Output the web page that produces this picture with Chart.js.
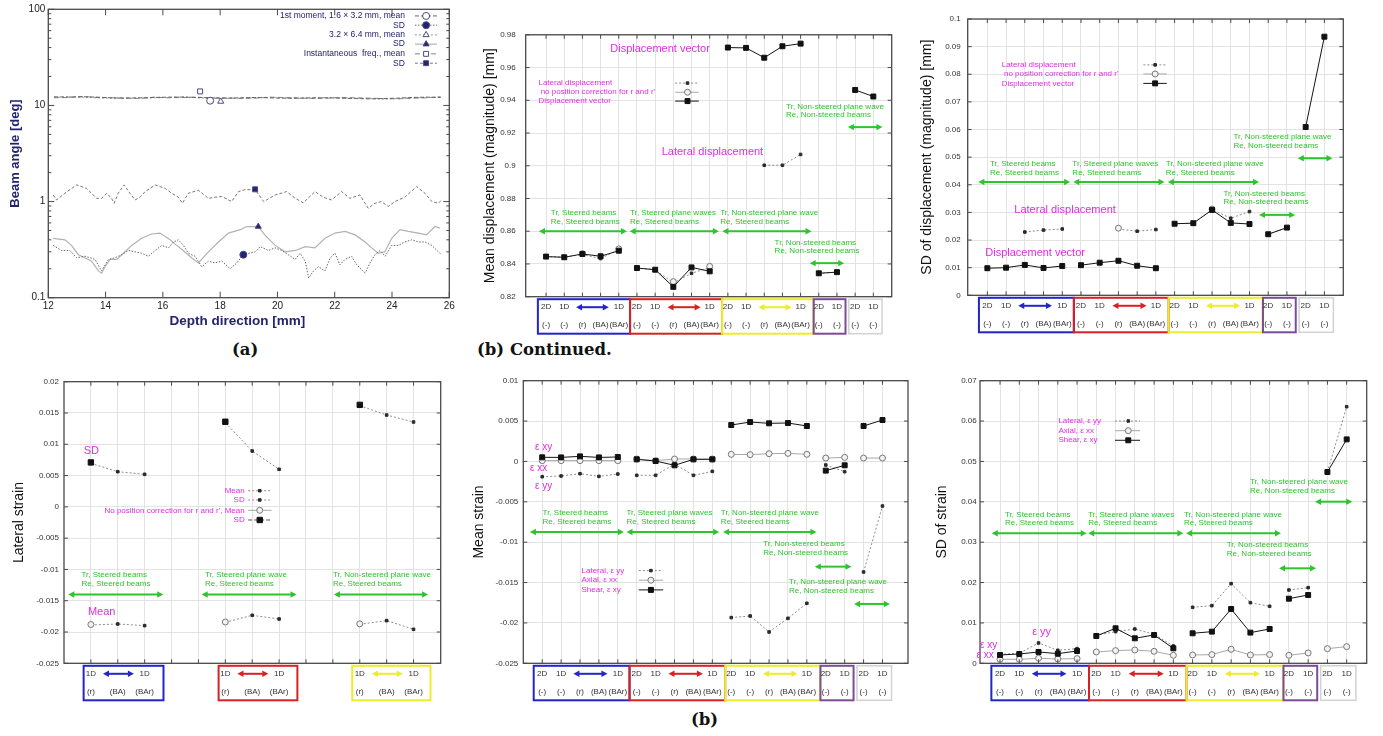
<!DOCTYPE html>
<html>
<head>
<meta charset="utf-8">
<title>Beam angle, displacement and strain</title>
<script src="https://cdn.jsdelivr.net/npm/chart.js@4.4.1/dist/chart.umd.min.js"></script>
<style>
  body { margin: 0; width: 1383px; height: 736px; background: #fff; position: relative; overflow: hidden; }
  canvas { position: absolute; }
  .cap { position: absolute; font: bold 16.5px "DejaVu Serif", "Liberation Serif", serif; color: #111; white-space: nowrap; line-height: 19px; }
</style>
</head>
<body>
<canvas id="beamAngle"></canvas>
<canvas id="dispMean"></canvas>
<canvas id="dispSd"></canvas>
<canvas id="latStrain"></canvas>
<canvas id="strainMean"></canvas>
<canvas id="strainSd"></canvas>
<div class="cap" style="left:232px;top:340px">(a)</div>
<div class="cap" style="left:477px;top:340px">(b) Continued.</div>
<div class="cap" style="left:691px;top:710px">(b)</div>
<script>
// ---------- (a) beam angle vs depth ----------
const depthTicks = [12, 14, 16, 18, 20, 22, 24, 26];
const beamTicks = [0.1, 1, 10, 100];
const beamMinorTicks = [0.2, 0.3, 0.4, 0.5, 0.6, 0.7, 0.8, 0.9, 2, 3, 4, 5, 6, 7, 8, 9, 20, 30, 40, 50, 60, 70, 80, 90];

const meanDepth = [12.2, 12.7, 13.2, 13.7, 14.2, 14.7, 15.2, 15.7, 16.2, 16.7, 17.2, 17.7, 18.2, 18.7, 19.2, 19.7, 20.2, 20.7, 21.2, 21.7, 22.2, 22.7, 23.2, 23.7, 24.2, 24.7, 25.2, 25.7];
const momentMean = [12.3, 12.2, 12.3, 12.2, 12.0, 11.9, 12.0, 12.1, 12.2, 12.2, 12.1, 12.0, 11.9, 12.0, 12.1, 12.0, 11.9, 11.9, 12.0, 12.0, 11.9, 11.8, 11.7, 11.8, 11.9, 12.1, 12.2, 12.1];
const wideMean = [12.1, 12.3, 12.2, 12.0, 11.9, 11.8, 11.9, 12.0, 12.1, 12.3, 12.0, 11.9, 11.8, 11.9, 12.0, 12.1, 12.0, 11.8, 11.9, 12.1, 12.0, 11.9, 11.8, 11.6, 11.8, 12.0, 12.1, 12.2];
const instMean = [12.0, 12.1, 12.4, 12.1, 12.0, 12.0, 11.8, 12.2, 12.0, 12.1, 12.2, 11.9, 12.0, 11.8, 11.9, 12.2, 12.1, 12.0, 11.8, 11.9, 12.1, 12.0, 11.9, 11.8, 11.7, 11.9, 12.0, 12.3];

const instSdDepth = [12.17, 12.29, 12.58, 12.99, 13.34, 13.69, 13.86, 14.04, 14.21, 14.30, 14.44, 14.65, 14.85, 15.03, 15.20, 15.38, 15.73, 16.08, 16.31, 16.54, 16.68, 16.89, 17.24, 17.59, 17.82, 18.06, 18.40, 18.64, 18.87, 19.22, 19.52, 19.92, 20.32, 20.62, 20.90, 21.31, 21.60, 21.89, 22.24, 22.53, 22.88, 23.17, 23.40, 23.63, 23.87, 24.10, 24.44, 24.86, 25.15, 25.39, 25.62, 25.73];
const instSdAngle = [1.17, 1.04, 1.22, 1.49, 1.37, 1.08, 1.08, 1.22, 1.08, 0.96, 1.22, 1.49, 1.22, 1.04, 1.11, 1.27, 1.49, 1.37, 1.22, 1.11, 0.96, 1.22, 1.31, 1.08, 1.11, 1.13, 1.00, 1.27, 1.33, 1.33, 1.00, 1.17, 1.27, 1.08, 0.97, 1.27, 1.11, 1.04, 1.27, 1.08, 1.17, 0.85, 0.96, 1.00, 0.89, 1.00, 1.11, 1.43, 1.22, 1.00, 0.96, 1.04];

const wideSdDepth = [12.17, 12.58, 12.81, 13.05, 13.28, 13.51, 13.75, 13.86, 13.98, 14.16, 14.39, 14.62, 14.91, 15.26, 15.61, 15.90, 16.25, 16.48, 16.71, 17.00, 17.24, 17.59, 17.94, 18.29, 18.70, 18.93, 19.33, 19.56, 19.92, 20.27, 20.62, 20.97, 21.31, 21.66, 22.01, 22.36, 22.71, 23.06, 23.29, 23.52, 23.75, 23.99, 24.28, 24.57, 24.92, 25.20, 25.50, 25.67];
const wideSdAngle = [0.415, 0.40, 0.35, 0.28, 0.26, 0.24, 0.19, 0.18, 0.21, 0.25, 0.25, 0.29, 0.35, 0.415, 0.46, 0.47, 0.40, 0.35, 0.31, 0.26, 0.23, 0.30, 0.38, 0.47, 0.51, 0.55, 0.55, 0.45, 0.35, 0.30, 0.31, 0.34, 0.33, 0.415, 0.47, 0.49, 0.45, 0.38, 0.33, 0.29, 0.30, 0.415, 0.51, 0.49, 0.47, 0.45, 0.55, 0.53];

const momentSdDepth = [12.17, 12.46, 12.75, 12.99, 13.28, 13.46, 13.63, 13.86, 14.10, 14.33, 14.56, 14.80, 15.03, 15.26, 15.50, 15.73, 15.96, 16.20, 16.37, 16.54, 16.72, 16.89, 17.12, 17.36, 17.59, 17.82, 18.06, 18.35, 18.58, 18.81, 19.22, 19.40, 19.68, 19.92, 20.15, 20.38, 20.62, 20.79, 20.97, 21.09, 21.26, 21.43, 21.66, 21.84, 22.01, 22.18, 22.36, 22.59, 22.77, 23.06, 23.23, 23.41, 23.58, 23.76, 23.99, 24.22, 24.45, 24.69, 24.92, 25.15, 25.39, 25.62, 25.73];
const momentSdAngle = [0.35, 0.31, 0.31, 0.26, 0.27, 0.26, 0.25, 0.19, 0.25, 0.26, 0.28, 0.31, 0.30, 0.29, 0.27, 0.31, 0.35, 0.33, 0.38, 0.40, 0.35, 0.29, 0.27, 0.21, 0.24, 0.23, 0.24, 0.20, 0.23, 0.28, 0.30, 0.34, 0.31, 0.33, 0.31, 0.28, 0.25, 0.29, 0.24, 0.16, 0.19, 0.21, 0.19, 0.26, 0.29, 0.22, 0.25, 0.27, 0.22, 0.18, 0.23, 0.28, 0.31, 0.27, 0.35, 0.35, 0.38, 0.40, 0.38, 0.38, 0.35, 0.30, 0.28];

// curve markers: moment mean, moment SD, 3.2x6.4 mean, 3.2x6.4 SD, inst. mean, inst. SD
const markDepth = [17.65, 18.81, 18.02, 19.33, 17.3, 19.22];
const markAngle = [11.2, 0.28, 11.0, 0.55, 14.0, 1.34];

// ---------- (b) 19 method categories ----------
const methodRow1 = ['2D', '1D', '', '', '1D', '2D', '1D', '', '', '1D', '2D', '1D', '', '', '1D', '2D', '1D', '2D', '1D'];
const methodRow2 = ['(-)', '(-)', '(r)', '(BA)', '(BAr)', '(-)', '(-)', '(r)', '(BA)', '(BAr)', '(-)', '(-)', '(r)', '(BA)', '(BAr)', '(-)', '(-)', '(-)', '(-)'];
const methodGroup = [0, 0, 0, 0, 0, 1, 1, 1, 1, 1, 2, 2, 2, 2, 2, 3, 3, 4, 4];
const methodTicks = [0, 1, 2, 3, 4, 5, 6, 7, 8, 9, 10, 11, 12, 13, 14, 15, 16, 17, 18];

const dispMeanTicks = [0.82, 0.84, 0.86, 0.88, 0.9, 0.92, 0.94, 0.96, 0.98];
const dispMeanVector = [0.8445, 0.8441, 0.8461, 0.8447, 0.8481, 0.8375, 0.8365, 0.8260, 0.8379, 0.8355, 0.9722, 0.9720, 0.9660, 0.9730, 0.9746, 0.8343, 0.8350, 0.9463, 0.9423];
const dispMeanLateral = [0.8445, 0.8441, 0.8458, 0.8433, 0.8488, 0.8375, 0.8365, 0.8284, 0.8343, 0.8379, null, null, 0.9003, 0.9003, 0.9069, 0.8343, 0.8350, null, null];
const dispMeanNoCorr = [null, null, 0.8463, null, 0.8492, null, null, 0.8292, null, 0.8385, null, null, null, null, null, null, null, null, null];

const dispSdTicks = [0, 0.01, 0.02, 0.03, 0.04, 0.05, 0.06, 0.07, 0.08, 0.09, 0.1];
const dispSdVector = [0.0098, 0.0100, 0.0110, 0.0099, 0.0106, 0.0109, 0.0118, 0.0125, 0.0107, 0.0098, 0.0259, 0.0261, 0.0309, 0.0262, 0.0258, 0.0221, 0.0245, 0.0609, 0.0936];
const dispSdLateral = [null, null, 0.0229, 0.0236, 0.0240, null, null, 0.0240, 0.0232, 0.0238, 0.0259, 0.0261, 0.0310, 0.0279, 0.0303, 0.0221, 0.0245, null, null];
const dispSdNoCorr = [null, null, null, null, null, null, null, 0.0243, null, null, null, null, 0.0312, null, null, null, null, null, null];

const latTicksX = [0, 1, 2, 3, 4, 5, 6, 7, 8, 9, 10, 11, 12];
const latRow1 = ['1D', '', '1D', '', '', '1D', '', '1D', '', '', '1D', '', '1D'];
const latRow2 = ['(r)', '(BA)', '(BAr)', '', '', '(r)', '(BA)', '(BAr)', '', '', '(r)', '(BA)', '(BAr)'];
const latStrainTicks = [-0.025, -0.02, -0.015, -0.01, -0.005, 0, 0.005, 0.01, 0.015, 0.02];
const latStrainMean = [-0.01888, -0.01872, -0.01898, null, null, -0.01845, -0.01733, -0.01792, null, null, -0.01877, -0.01818, -0.01957];
const latStrainSd = [0.00695, 0.00562, 0.0052, null, null, 0.01345, 0.00892, 0.0060, null, null, 0.01617, 0.01467, 0.01356];
const latNoCorrMean = [-0.0188, null, null, null, null, -0.0184, null, null, null, null, -0.0187, null, null];
const latNoCorrSd = [0.0071, null, null, null, null, 0.0136, null, null, null, null, 0.0163, null, null];

const strainMeanTicks = [-0.025, -0.02, -0.015, -0.01, -0.005, 0, 0.005, 0.01];
const meanShear = [0.00051, 0.00050, 0.00063, 0.00050, 0.00055, 0.00026, 0.00005, -0.00048, 0.00026, 0.00026, 0.00451, 0.00488, 0.00472, 0.00476, 0.00439, -0.00114, -0.00048, 0.00439, 0.00513];
const meanAxial = [0.0001, 0.0001, 0.0001, 0.0001, 0.0001, 0.0003, 0.0001, 0.0003, 0.0003, 0.0003, 0.00088, 0.00084, 0.00096, 0.0010, 0.00088, 0.00042, 0.0005, 0.00042, 0.00042];
const meanLateral = [-0.00189, -0.0018, -0.00152, -0.00185, -0.00156, -0.00172, -0.00172, -0.00032, -0.00172, -0.00123, -0.01934, -0.01914, -0.02112, -0.01943, -0.01757, -0.00044, -0.00127, -0.01369, -0.00552];

const strainSdTicks = [0, 0.01, 0.02, 0.03, 0.04, 0.05, 0.06, 0.07];
const sdShear = [0.00206, 0.00231, 0.00281, 0.00239, 0.00305, 0.00677, 0.00867, 0.00619, 0.00702, 0.00371, 0.00743, 0.00784, 0.01345, 0.0076, 0.0085, 0.01601, 0.01692, 0.04738, 0.05547];
const sdLateral = [0.00223, 0.00248, 0.00504, 0.00322, 0.00363, 0.00693, 0.00784, 0.0085, 0.00718, 0.00429, 0.01387, 0.01428, 0.01973, 0.01502, 0.01412, 0.01816, 0.01874, 0.0474, 0.06356];
const sdAxial = [0.00099, 0.00099, 0.00124, 0.00107, 0.00116, 0.00281, 0.00314, 0.0033, 0.00297, 0.00198, 0.00206, 0.00215, 0.00347, 0.00206, 0.00215, 0.00198, 0.00256, 0.00363, 0.00413];

// ---------- styles ----------
const FONT = '"Liberation Sans", Arial, sans-serif';
const GREEN = '#2ec42e', MAGENTA = '#e02ee0', NAVY = '#23236e';
const BOXCOL = ['#2424c8', '#d82222', '#ecec2c', '#7c4c98', '#d2d2d2'];

Chart.defaults.font.family = FONT;
Chart.defaults.color = '#333';
Chart.defaults.animation = false;
Chart.defaults.plugins.legend.display = false;
Chart.defaults.plugins.tooltip.enabled = false;

const SER = {
  vector: { borderColor: '#151515', borderWidth: 1, pointStyle: 'rect', pointRadius: 3.5, pointBackgroundColor: '#111', pointBorderColor: '#111' },
  lateral: { borderColor: '#8c8c8c', borderWidth: 1, borderDash: [2, 2], pointStyle: 'rect', pointRadius: 1.8, pointBackgroundColor: '#2a2a2a', pointBorderColor: '#2a2a2a' },
  open: { borderColor: '#a8a8a8', borderWidth: 1, pointStyle: 'circle', pointRadius: 3, pointBackgroundColor: '#f2f2f2', pointBorderColor: '#777' },
  bigSd: { borderColor: '#555', borderWidth: 1, borderDash: [4, 2], pointStyle: 'rect', pointRadius: 3.8, pointBackgroundColor: '#111', pointBorderColor: '#111' },
};
const BEAM = {
  momentMean: { borderColor: '#666', borderWidth: 1, borderDash: [4, 2] },
  momentSd: { borderColor: '#666', borderWidth: 1, borderDash: [1.5, 1.5] },
  wideMean: { borderColor: '#999', borderWidth: 1, borderDash: [2, 2] },
  wideSd: { borderColor: '#b2b2b2', borderWidth: 1.2 },
  instMean: { borderColor: '#808080', borderWidth: 1, borderDash: [5, 3] },
  instSd: { borderColor: '#777', borderWidth: 1, borderDash: [3, 2] },
};
const markShape = ['circle', 'circle', 'triangle', 'triangle', 'rect', 'rect'];
const markFill = ['#fff', NAVY, '#fff', NAVY, '#fff', NAVY];
const beamMark = i => ({ pointStyle: markShape[i], pointRadius: 3.5, pointBackgroundColor: markFill[i], pointBorderColor: '#4a4a80' });

// ---------- helpers ----------
const xy = arr => arr.map((v, i) => ({ x: i, y: v }));
const pairs = (xs, ys) => xs.map((x, i) => ({ x: x, y: ys[i] }));
const fmt = v => String(+Number(v).toFixed(4));
const splitGroups = c => methodGroup[c.p0DataIndex] !== methodGroup[c.p1DataIndex] ? 'rgba(0,0,0,0)' : undefined;

function mkCanvas(id, x, y, w, h) {
  const c = document.getElementById(id);
  c.width = w; c.height = h;
  c.style.left = x + 'px'; c.style.top = y + 'px';
  return c;
}

function dblArrow(ctx, x1, x2, y, color) {
  const h = 6, w = 3.2;
  ctx.save();
  ctx.strokeStyle = color; ctx.fillStyle = color; ctx.lineWidth = 2; ctx.setLineDash([]);
  ctx.beginPath(); ctx.moveTo(x1 + h - 1, y); ctx.lineTo(x2 - h + 1, y); ctx.stroke();
  ctx.beginPath();
  ctx.moveTo(x1, y); ctx.lineTo(x1 + h, y - w); ctx.lineTo(x1 + h, y + w); ctx.closePath();
  ctx.moveTo(x2, y); ctx.lineTo(x2 - h, y - w); ctx.lineTo(x2 - h, y + w); ctx.closePath();
  ctx.fill();
  ctx.restore();
}

function drawMark(ctx, st, x, y) {
  ctx.save();
  ctx.setLineDash([]);
  ctx.fillStyle = st.pointBackgroundColor; ctx.strokeStyle = st.pointBorderColor; ctx.lineWidth = 1;
  Chart.helpers.drawPoint(ctx, { pointStyle: st.pointStyle, radius: st.pointRadius, rotation: 0, borderWidth: 1 }, x, y);
  ctx.restore();
}

// frame, gnuplot-like inner ticks, arrows, notes, legend and the method boxes under the x axis
const deco = {
  id: 'deco',
  afterDatasetsDraw(chart, args, o) {
    const ctx = chart.ctx, a = chart.chartArea, sx = chart.scales.x, sy = chart.scales.y;
    const X = v => sx.getPixelForValue(v), Y = v => sy.getPixelForValue(v);
    const tk = o.tick || 4;
    ctx.save();
    ctx.strokeStyle = '#4a4a4a'; ctx.lineWidth = 1; ctx.setLineDash([]);
    ctx.beginPath();
    sx.ticks.forEach(t => {
      const p = X(t.value);
      ctx.moveTo(p, a.top); ctx.lineTo(p, a.top + tk);
      ctx.moveTo(p, a.bottom); ctx.lineTo(p, a.bottom - tk);
    });
    sy.ticks.forEach(t => {
      const p = Y(t.value);
      ctx.moveTo(a.left, p); ctx.lineTo(a.left + tk, p);
      ctx.moveTo(a.right, p); ctx.lineTo(a.right - tk, p);
    });
    (o.minorY || []).forEach(v => {
      const p = Y(v);
      ctx.moveTo(a.left, p); ctx.lineTo(a.left + tk / 2, p);
      ctx.moveTo(a.right, p); ctx.lineTo(a.right - tk / 2, p);
    });
    ctx.stroke();
    ctx.lineWidth = 1.3;
    ctx.strokeRect(a.left, a.top, a.right - a.left, a.bottom - a.top);

    (o.arrows || []).forEach(r => dblArrow(ctx, X(r.x1), X(r.x2), Y(r.y), GREEN));

    ctx.textBaseline = 'middle';
    (o.texts || []).forEach(t => {
      ctx.fillStyle = t.color || GREEN;
      ctx.font = (t.bold ? 'bold ' : '') + (t.size || 8) + 'px ' + FONT;
      ctx.textAlign = t.align || 'left';
      const px = X(t.x), py = t.dy !== undefined ? a.bottom + t.dy : Y(t.y);
      t.lines.forEach((s, i) => ctx.fillText(s, px, py + i * (t.lh || 8.8)));
    });

    (o.legend || []).forEach(l => {
      const y = Y(l.y);
      ctx.fillStyle = l.color || MAGENTA;
      ctx.font = (l.size || 8) + 'px ' + FONT;
      ctx.textAlign = l.align || 'left';
      ctx.fillText(l.text, X(l.x), y);
      const st = l.st;
      ctx.strokeStyle = st.borderColor; ctx.lineWidth = st.borderWidth || 1;
      ctx.setLineDash(st.borderDash || []);
      ctx.beginPath(); ctx.moveTo(X(l.s1), y); ctx.lineTo(X(l.s2), y); ctx.stroke();
      ctx.setLineDash([]);
      drawMark(ctx, l.mk || st, X(l.m), y);
    });

    if (o.boxes) {
      const bx = o.boxes, top = a.bottom + 2.5, bot = a.bottom + 37;
      bx.spans.forEach(s => {
        ctx.strokeStyle = BOXCOL[s.c]; ctx.lineWidth = s.c === 4 ? 1.5 : 2;
        ctx.strokeRect(X(s.x1), top, X(s.x2) - X(s.x1), bot - top);
        if (s.arrow) dblArrow(ctx, X(s.arrow[0]), X(s.arrow[1]), a.bottom + 10.5, BOXCOL[s.c]);
      });
      ctx.fillStyle = '#333'; ctx.font = '8px ' + FONT; ctx.textAlign = 'center';
      bx.row1.forEach((s, i) => { if (s) ctx.fillText(s, X(i), a.bottom + 10.5); });
      bx.row2.forEach((s, i) => { if (s) ctx.fillText(s, X(i), a.bottom + 28); });
    }
    ctx.restore();
  }
};
Chart.register(deco);

// categorical panel: chart area given in page pixels
function catChart(id, rect, c) {
  const [cx, cy, cw, ch] = rect;
  const [l, t, r, b] = c.area;
  return new Chart(mkCanvas(id, cx, cy, cw, ch), {
    type: 'line',
    data: { datasets: c.datasets },
    options: {
      responsive: false,
      layout: { padding: { top: t - cy, right: cx + cw - r, left: 0, bottom: 0 } },
      scales: {
        x: {
          type: 'linear', min: c.xRange[0], max: c.xRange[1],
          afterBuildTicks: s => { s.ticks = c.xTicks.map(v => ({ value: v })); },
          afterFit: s => { s.height = cy + ch - b; },
          ticks: { display: false },
          grid: { color: '#dcdcdc', lineWidth: 0.8, drawTicks: false },
          border: { display: false }
        },
        y: {
          type: 'linear', min: c.yTicks[0], max: c.yTicks[c.yTicks.length - 1],
          afterBuildTicks: s => { s.ticks = c.yTicks.map(v => ({ value: v })); },
          afterFit: s => { s.width = l - cx; },
          ticks: { font: { size: 8 }, color: '#333', padding: c.tickPad, callback: fmt },
          grid: { color: '#dcdcdc', lineWidth: 0.8, drawTicks: false },
          border: { display: false },
          title: { display: true, text: c.title, font: { size: 14 }, color: '#111', padding: { top: c.titleX - cx - 8.4, bottom: 0 } }
        }
      },
      plugins: { deco: c.deco }
    }
  });
}

const methodSpans = [
  { x1: -0.45, x2: 4.62, c: 0, arrow: [1.65, 3.45] },
  { x1: 4.62, x2: 9.68, c: 1, arrow: [6.68, 8.5] },
  { x1: 9.68, x2: 14.7, c: 2, arrow: [11.68, 13.5] },
  { x1: 14.72, x2: 16.47, c: 3 },
  { x1: 16.65, x2: 18.48, c: 4 }
];
const methodBoxes = { spans: methodSpans, row1: methodRow1, row2: methodRow2 };
const ds = (vals, st, split) => Object.assign({ data: xy(vals), tension: 0 }, st, split ? { segment: { borderColor: splitGroups } } : {});

// ---------- (a) ----------
new Chart(mkCanvas('beamAngle', 0, 0, 462, 335), {
  type: 'line',
  data: {
    datasets: [
      { data: pairs(markDepth, markAngle), showLine: false, pointStyle: markShape, pointRadius: 3.5, pointBackgroundColor: markFill, pointBorderColor: '#4a4a80', pointBorderWidth: 1 },
      Object.assign({ data: pairs(momentSdDepth, momentSdAngle), pointRadius: 0 }, BEAM.momentSd),
      Object.assign({ data: pairs(wideSdDepth, wideSdAngle), pointRadius: 0 }, BEAM.wideSd),
      Object.assign({ data: pairs(instSdDepth, instSdAngle), pointRadius: 0 }, BEAM.instSd),
      Object.assign({ data: pairs(meanDepth, momentMean), pointRadius: 0 }, BEAM.momentMean),
      Object.assign({ data: pairs(meanDepth, wideMean), pointRadius: 0 }, BEAM.wideMean),
      Object.assign({ data: pairs(meanDepth, instMean), pointRadius: 0 }, BEAM.instMean)
    ]
  },
  options: {
    responsive: false,
    layout: { padding: { top: 9.3, right: 12.7, left: 0, bottom: 0 } },
    scales: {
      x: {
        type: 'linear', min: 12, max: 26,
        afterBuildTicks: s => { s.ticks = depthTicks.map(v => ({ value: v })); },
        afterFit: s => { s.height = 37.3; },
        ticks: { font: { size: 10 }, color: '#222', padding: 3 },
        grid: { display: false, drawTicks: false },
        border: { display: false }
      },
      y: {
        type: 'logarithmic', min: 0.1, max: 100,
        afterBuildTicks: s => { s.ticks = beamTicks.map(v => ({ value: v })); },
        afterFit: s => { s.width = 48.3; },
        ticks: { font: { size: 10 }, color: '#222', padding: 3, callback: v => String(v) },
        grid: { display: false, drawTicks: false },
        border: { display: false },
        title: { display: true, text: 'Beam angle [deg]', font: { size: 13, weight: 'bold' }, color: NAVY, padding: { top: 7.2, bottom: 0 } }
      }
    },
    plugins: {
      deco: {
        tick: 6,
        minorY: beamMinorTicks,
        texts: [{ x: 18.6, dy: 23.5, lines: ['Depth direction [mm]'], color: NAVY, size: 13.5, bold: true, align: 'center' }],
        legend: [
          { x: 24.45, y: 85.3, text: '1st moment, 1.6 × 3.2 mm, mean', align: 'right', color: NAVY, size: 8.5, st: BEAM.momentMean, mk: beamMark(0), s1: 24.8, s2: 25.57, m: 25.19 },
          { x: 24.45, y: 68.4, text: 'SD', align: 'right', color: NAVY, size: 8.5, st: BEAM.momentSd, mk: beamMark(1), s1: 24.8, s2: 25.57, m: 25.19 },
          { x: 24.45, y: 54.2, text: '3.2 × 6.4 mm, mean', align: 'right', color: NAVY, size: 8.5, st: BEAM.wideMean, mk: beamMark(2), s1: 24.8, s2: 25.57, m: 25.19 },
          { x: 24.45, y: 43.4, text: 'SD', align: 'right', color: NAVY, size: 8.5, st: BEAM.wideSd, mk: beamMark(3), s1: 24.8, s2: 25.57, m: 25.19 },
          { x: 24.45, y: 34.4, text: 'Instantaneous  freq., mean', align: 'right', color: NAVY, size: 8.5, st: BEAM.instMean, mk: beamMark(4), s1: 24.8, s2: 25.57, m: 25.19 },
          { x: 24.45, y: 27.5, text: 'SD', align: 'right', color: NAVY, size: 8.5, st: BEAM.instSd, mk: beamMark(5), s1: 24.8, s2: 25.57, m: 25.19 }
        ]
      }
    }
  }
});

// ---------- mean displacement ----------
catChart('dispMean', [470, 20, 430, 318], {
  area: [525.7, 29, 891.7, 296.7], xRange: [-1.12, 19.01], xTicks: methodTicks, yTicks: dispMeanTicks,
  title: 'Mean displacement (magnitude) [mm]', titleX: 490, tickPad: 10,
  datasets: [ds(dispMeanVector, SER.vector, true), ds(dispMeanNoCorr, SER.open, true), ds(dispMeanLateral, SER.lateral, true)],
  deco: {
    arrows: [
      { x1: -0.39, x2: 4.45, y: 0.86 }, { x1: 4.6, x2: 9.5, y: 0.86 }, { x1: 9.7, x2: 14.6, y: 0.86 },
      { x1: 14.5, x2: 16.4, y: 0.8405 }, { x1: 16.6, x2: 18.5, y: 0.9236 }
    ],
    texts: [
      { x: 0.26, y: 0.8713, lines: ['Tr, Steered beams', 'Re, Steered beams'] },
      { x: 4.62, y: 0.8713, lines: ['Tr, Steered plane waves', 'Re, Steered beams'] },
      { x: 9.58, y: 0.8713, lines: ['Tr, Non-steered plane wave', 'Re, Steered beams'] },
      { x: 12.57, y: 0.8532, lines: ['Tr, Non-steered beams', 'Re, Non-steered beams'] },
      { x: 13.2, y: 0.9363, lines: ['Tr, Non-steered plane wave', 'Re, Non-steered beams'] },
      { x: 6.27, y: 0.9714, lines: ['Displacement vector'], color: MAGENTA, size: 11, align: 'center' },
      { x: 9.15, y: 0.9082, lines: ['Lateral displacement'], color: MAGENTA, size: 11, align: 'center' }
    ],
    legend: [
      { x: -0.42, y: 0.9505, text: 'Lateral displacement', st: SER.lateral, s1: 7.1, s2: 8.4, m: 7.78 },
      { x: -0.42, y: 0.9449, text: " no position correction for r and r'", st: SER.open, s1: 7.1, s2: 8.4, m: 7.78 },
      { x: -0.42, y: 0.9395, text: 'Displacement vector', st: SER.vector, s1: 7.1, s2: 8.4, m: 7.78 }
    ],
    boxes: methodBoxes
  }
});

// ---------- SD of displacement ----------
catChart('dispSd', [910, 5, 473, 333], {
  area: [967.7, 19, 1343.3, 295.3], xRange: [-1.05, 19.01], xTicks: methodTicks, yTicks: dispSdTicks,
  title: 'SD of displacement (magnitude) [mm]', titleX: 926.7, tickPad: 7,
  datasets: [ds(dispSdVector, SER.vector, true), ds(dispSdNoCorr, SER.open, true), ds(dispSdLateral, SER.lateral, true)],
  deco: {
    arrows: [
      { x1: -0.48, x2: 4.42, y: 0.041 }, { x1: 4.59, x2: 9.46, y: 0.041 }, { x1: 9.64, x2: 14.51, y: 0.041 },
      { x1: 14.51, x2: 16.44, y: 0.0291 }, { x1: 16.58, x2: 18.43, y: 0.0496 }
    ],
    texts: [
      { x: 0.14, y: 0.0475, lines: ['Tr, Steered beams', 'Re, Steered beams'] },
      { x: 4.54, y: 0.0475, lines: ['Tr, Steered plane waves', 'Re, Steered beams'] },
      { x: 9.53, y: 0.0475, lines: ['Tr, Non-steered plane wave', 'Re, Steered beams'] },
      { x: 12.61, y: 0.0369, lines: ['Tr, Non-steered beams', 'Re, Non-steered beams'] },
      { x: 13.14, y: 0.0574, lines: ['Tr, Non-steered plane wave', 'Re, Non-steered beams'] },
      { x: 4.15, y: 0.0309, lines: ['Lateral displacement'], color: MAGENTA, size: 11, align: 'center' },
      { x: 2.55, y: 0.0152, lines: ['Displacement vector'], color: MAGENTA, size: 11, align: 'center' }
    ],
    legend: [
      { x: 0.77, y: 0.0834, text: 'Lateral displacement', st: SER.lateral, s1: 8.33, s2: 9.58, m: 8.96 },
      { x: 0.77, y: 0.0801, text: " no position correction for r and r'", st: SER.open, s1: 8.33, s2: 9.58, m: 8.96 },
      { x: 0.77, y: 0.0767, text: 'Displacement vector', st: SER.vector, s1: 8.33, s2: 9.58, m: 8.96 }
    ],
    boxes: methodBoxes
  }
});

// ---------- lateral strain ----------
catChart('latStrain', [0, 368, 460, 342], {
  area: [64, 381.7, 440.7, 663.3], xRange: [-1.0, 13.01], xTicks: latTicksX, yTicks: latStrainTicks,
  title: 'Lateral strain', titleX: 19.3, tickPad: 5,
  datasets: [
    ds(latNoCorrSd, SER.bigSd), ds(latNoCorrMean, SER.open),
    ds(latStrainSd, SER.lateral), ds(latStrainMean, SER.lateral)
  ],
  deco: {
    arrows: [{ x1: -0.84, x2: 2.69, y: -0.014 }, { x1: 4.12, x2: 7.65, y: -0.014 }, { x1: 9.04, x2: 12.54, y: -0.014 }],
    texts: [
      { x: -0.35, y: -0.0109, lines: ['Tr, Steered beams', 'Re, Steered beams'] },
      { x: 4.24, y: -0.0109, lines: ['Tr, Steered plane wave', 'Re, Steered beams'] },
      { x: 9.0, y: -0.0109, lines: ['Tr, Non-steered plane wave', 'Re, Steered beams'] },
      { x: 0.02, y: 0.0089, lines: ['SD'], color: MAGENTA, size: 11, align: 'center' },
      { x: 0.4, y: -0.01675, lines: ['Mean'], color: MAGENTA, size: 11, align: 'center' }
    ],
    legend: [
      { x: 5.72, y: 0.00258, text: 'Mean', align: 'right', st: SER.lateral, s1: 5.85, s2: 6.72, m: 6.28 },
      { x: 5.72, y: 0.0011, text: 'SD', align: 'right', st: SER.lateral, s1: 5.85, s2: 6.72, m: 6.28 },
      { x: 5.72, y: -0.00055, text: "No position correction for r and r', Mean", align: 'right', st: SER.open, s1: 5.85, s2: 6.72, m: 6.28 },
      { x: 5.72, y: -0.0021, text: 'SD', align: 'right', st: SER.bigSd, s1: 5.85, s2: 6.72, m: 6.28 }
    ],
    boxes: {
      spans: [
        { x1: -0.27, x2: 2.7, c: 0, arrow: [0.45, 1.6] },
        { x1: 4.75, x2: 7.68, c: 1, arrow: [5.45, 6.6] },
        { x1: 9.72, x2: 12.63, c: 2, arrow: [10.45, 11.6] }
      ],
      row1: latRow1, row2: latRow2
    }
  }
});

// ---------- mean strain ----------
catChart('strainMean', [462, 368, 453, 342], {
  area: [523.3, 380.7, 908, 663.3], xRange: [-1.0, 19.35], xTicks: methodTicks, yTicks: strainMeanTicks,
  title: 'Mean strain', titleX: 479.3, tickPad: 5,
  datasets: [ds(meanShear, SER.vector, true), ds(meanAxial, SER.open, true), ds(meanLateral, SER.lateral, true)],
  deco: {
    arrows: [
      { x1: -0.65, x2: 4.32, y: -0.00873 }, { x1: 4.46, x2: 9.36, y: -0.00873 }, { x1: 9.57, x2: 14.51, y: -0.00873 },
      { x1: 14.42, x2: 16.36, y: -0.01303 }, { x1: 16.5, x2: 18.39, y: -0.01765 }
    ],
    texts: [
      { x: 0.02, y: -0.00634, lines: ['Tr, Steered beams', 'Re, Steered beams'] },
      { x: 4.46, y: -0.00634, lines: ['Tr, Steered plane waves', 'Re, Steered beams'] },
      { x: 9.45, y: -0.00634, lines: ['Tr, Non-steered plane wave', 'Re, Steered beams'] },
      { x: 11.69, y: -0.01022, lines: ['Tr, Non-steered beams', 'Re, Non-steered beams'] },
      { x: 13.06, y: -0.01496, lines: ['Tr, Non-steered plane wave', 'Re, Non-steered beams'] },
      { x: 0.07, y: 0.00171, lines: ['ε xy'], color: MAGENTA, size: 10, align: 'center' },
      { x: -0.19, y: -0.00084, lines: ['ε xx'], color: MAGENTA, size: 10, align: 'center' },
      { x: 0.07, y: -0.00304, lines: ['ε yy'], color: MAGENTA, size: 10, align: 'center' }
    ],
    legend: [
      { x: 2.08, y: -0.01352, text: 'Lateral, ε yy', st: SER.lateral, s1: 5.11, s2: 6.4, m: 5.75 },
      { x: 2.08, y: -0.01471, text: 'Axial, ε xx', st: SER.open, s1: 5.11, s2: 6.4, m: 5.75 },
      { x: 2.08, y: -0.01591, text: 'Shear, ε xy', st: SER.vector, s1: 5.11, s2: 6.4, m: 5.75 }
    ],
    boxes: methodBoxes
  }
});

// ---------- SD of strain ----------
catChart('strainSd', [920, 368, 463, 342], {
  area: [980, 380.7, 1366.7, 663.3], xRange: [-1.04, 19.04], xTicks: methodTicks, yTicks: strainSdTicks,
  title: 'SD of strain', titleX: 941.7, tickPad: 3.3,
  datasets: [ds(sdShear, SER.vector, true), ds(sdAxial, SER.open, true), ds(sdLateral, SER.lateral, true)],
  deco: {
    arrows: [
      { x1: -0.43, x2: 4.5, y: 0.0322 }, { x1: 4.58, x2: 9.52, y: 0.0322 }, { x1: 9.66, x2: 14.59, y: 0.0322 },
      { x1: 14.49, x2: 16.41, y: 0.02353 }, { x1: 16.36, x2: 18.29, y: 0.04003 }
    ],
    texts: [
      { x: 0.26, y: 0.0369, lines: ['Tr, Steered beams', 'Re, Steered beams'] },
      { x: 4.58, y: 0.0369, lines: ['Tr, Steered plane waves', 'Re, Steered beams'] },
      { x: 9.55, y: 0.0369, lines: ['Tr, Non-steered plane wave', 'Re, Steered beams'] },
      { x: 11.77, y: 0.02923, lines: ['Tr, Non-steered beams', 'Re, Non-steered beams'] },
      { x: 12.98, y: 0.04498, lines: ['Tr, Non-steered plane wave', 'Re, Non-steered beams'] },
      { x: 2.16, y: 0.00783, lines: ['ε yy'], color: MAGENTA, size: 11, align: 'center' },
      { x: -0.59, y: 0.00453, lines: ['ε xy'], color: MAGENTA, size: 10, align: 'center' },
      { x: -0.78, y: 0.00206, lines: ['ε xx'], color: MAGENTA, size: 10, align: 'center' }
    ],
    legend: [
      { x: 3.03, y: 0.06002, text: 'Lateral, ε yy', st: SER.lateral, s1: 5.97, s2: 7.27, m: 6.66 },
      { x: 3.03, y: 0.05762, text: 'Axial, ε xx', st: SER.open, s1: 5.97, s2: 7.27, m: 6.66 },
      { x: 3.03, y: 0.05524, text: 'Shear, ε xy', st: SER.vector, s1: 5.97, s2: 7.27, m: 6.66 }
    ],
    boxes: methodBoxes
  }
});
</script>
</body>
</html>
